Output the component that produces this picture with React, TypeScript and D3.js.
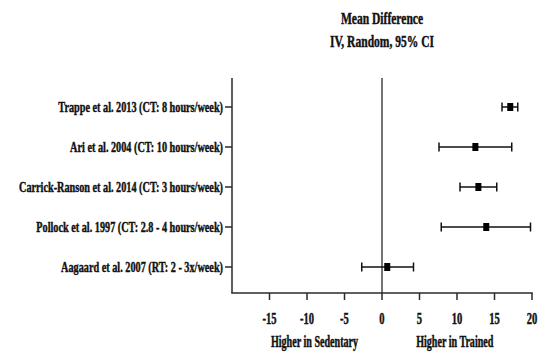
import React from "react";
import * as d3 from "d3";

const studies = [
  "Trappe et al. 2013 (CT: 8 hours/week)",
  "Ari et al. 2004 (CT: 10 hours/week)",
  "Carrick-Ranson et al. 2014 (CT: 3 hours/week)",
  "Pollock et al. 1997 (CT: 2.8 - 4 hours/week)",
  "Aagaard et al. 2007 (RT: 2 - 3x/week)",
];
const meanDiff = [17.1, 12.45, 12.85, 13.9, 0.7];
const ciLow = [16.0, 7.6, 10.4, 7.9, -2.7];
const ciHigh = [18.1, 17.3, 15.3, 19.8, 4.2];
const xTicks = [-15, -10, -5, 0, 5, 10, 15, 20];
const titleLines = ["Mean Difference", "IV, Random, 95% CI"];
const bottomLabels = [
  { text: "Higher in Sedentary", at: -9 },
  { text: "Higher in Trained", at: 9.7 },
];

const W = 548;
const H = 354;
const FONT = "'Liberation Serif', 'Times New Roman', serif";

function SText(props: {
  x: number;
  y: number;
  size: number;
  sx: number;
  anchor: "start" | "middle" | "end";
  children: React.ReactNode;
}) {
  return (
    <text
      transform={`translate(${props.x},${props.y}) scale(${props.sx},1)`}
      textAnchor={props.anchor}
      fontFamily={FONT}
      fontWeight="bold"
      fontSize={props.size}
      fill="#111"
      stroke="#111"
      strokeWidth={0.45}
    >
      {props.children}
    </text>
  );
}

export default function App() {
  const x = d3.scaleLinear().domain([-20, 20]).range([232, 532]);
  const y = d3.scalePoint<string>().domain(studies).range([107, 267]);
  const axisY = 293;
  const topY = 78;
  const stroke = "#2a2a2a";

  return (
    <svg
      width={W}
      height={H}
      style={{ position: "absolute", left: 0, top: 0, background: "#fff" }}
    >
      {titleLines.map((t, i) => (
        <SText key={t} x={x(0)} y={24 + i * 23} size={17} sx={0.68} anchor="middle">
          {t}
        </SText>
      ))}

      <line x1={x(-20)} x2={x(-20)} y1={topY} y2={axisY} stroke={stroke} strokeWidth={1.5} />
      <line x1={x(0)} x2={x(0)} y1={topY} y2={axisY} stroke={stroke} strokeWidth={1.3} />
      <line x1={x(-20) - 0.75} x2={x(20) + 0.75} y1={axisY} y2={axisY} stroke={stroke} strokeWidth={1.5} />

      {xTicks.map((t) => (
        <g key={t}>
          <line x1={x(t)} x2={x(t)} y1={axisY} y2={axisY + 7} stroke={stroke} strokeWidth={1.5} />
          <SText x={x(t)} y={324} size={16} sx={0.66} anchor="middle">
            {String(t)}
          </SText>
        </g>
      ))}

      {studies.map((s, i) => {
        const yy = y(s) as number;
        return (
          <g key={s}>
            <line x1={x(-20) - 7} x2={x(-20)} y1={yy} y2={yy} stroke={stroke} strokeWidth={1.5} />
            <SText x={x(-20) - 9} y={yy + 5} size={15.5} sx={0.66} anchor="end">
              {s}
            </SText>
            <line x1={x(ciLow[i])} x2={x(ciHigh[i])} y1={yy} y2={yy} stroke="#111" strokeWidth={1.5} />
            <line x1={x(ciLow[i])} x2={x(ciLow[i])} y1={yy - 4.5} y2={yy + 4.5} stroke="#111" strokeWidth={1.5} />
            <line x1={x(ciHigh[i])} x2={x(ciHigh[i])} y1={yy - 4.5} y2={yy + 4.5} stroke="#111" strokeWidth={1.5} />
            <rect x={x(meanDiff[i]) - 3} y={yy - 4} width={6} height={8} fill="#000" />
          </g>
        );
      })}

      {bottomLabels.map((b) => (
        <SText key={b.text} x={x(b.at)} y={347} size={16} sx={0.63} anchor="middle">
          {b.text}
        </SText>
      ))}
    </svg>
  );
}
